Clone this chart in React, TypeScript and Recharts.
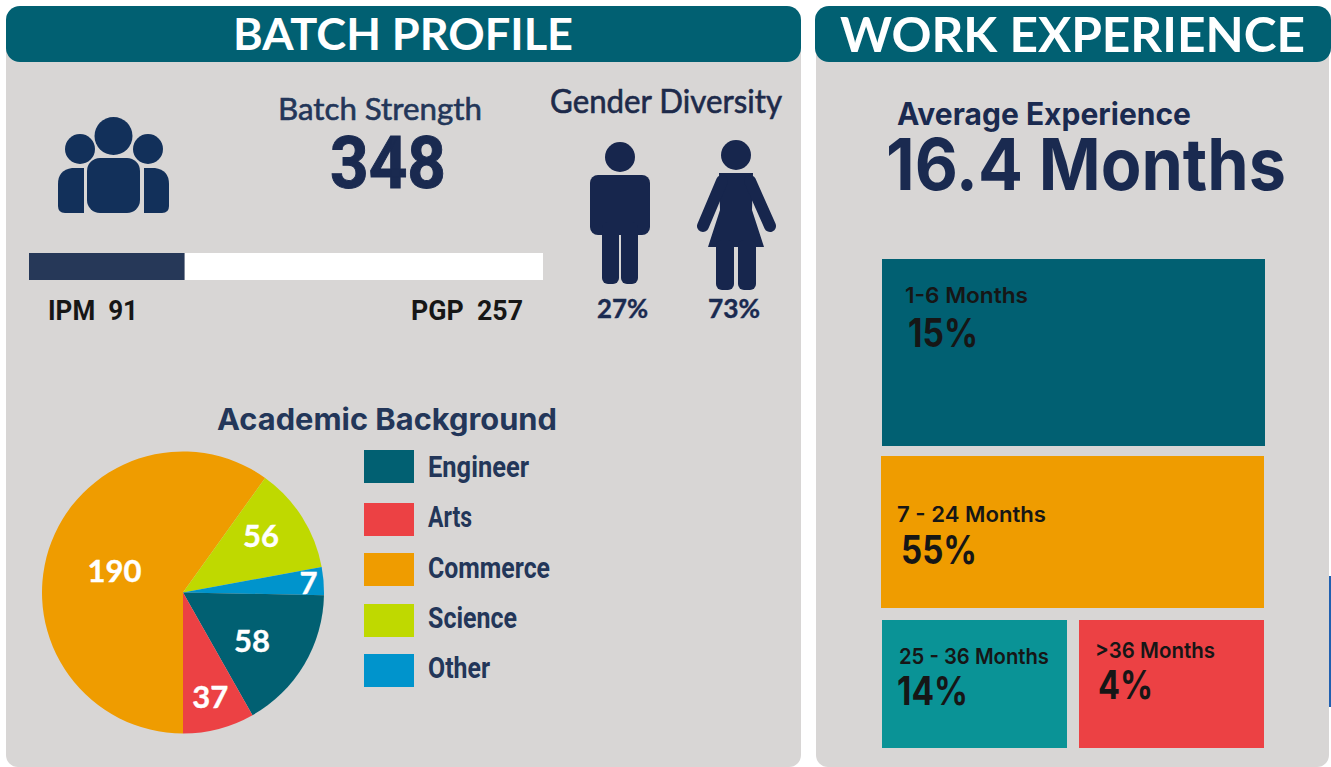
import React from 'react';
import { BarChart, Bar, PieChart, Pie, Cell, XAxis, YAxis } from 'recharts';

const TEAL = '#016072';
const ORANGE = '#ef9c00';
const SEA = '#0a9396';
const RED = '#ec4144';
const LIME = '#bfd900';
const BLUE = '#0094cc';
const PANEL = '#d8d6d5';
const NAVY = '#1a2a50';
const SLATE = '#233659';
const INK = '#161616';

// pie, clockwise from six o'clock. The printed numbers and the drawn slice
// sizes disagree in the source graphic, so both are kept.
const sliceNames = ['Commerce', 'Science', 'Other', 'Engineer', 'Arts'];
const slicePrinted = [190, 56, 7, 58, 37];
const sliceShares = [59.9, 12.2, 3.2, 16.5, 8.2];
const sliceColors = [ORANGE, LIME, BLUE, TEAL, RED];
const sliceLabelRadius = [72, 97, 126, 84, 107];
const sliceLabelNudge = [0, 4, 0, -4, 0];

const legendNames = ['Engineer', 'Arts', 'Commerce', 'Science', 'Other'];
const legendColors = [TEAL, RED, ORANGE, LIME, BLUE];
const legendTop = [450, 503, 553, 604, 654];
const legendBaseline = [477, 527, 578, 628, 678];
const legendWidth = [101, 44, 122, 89, 62];

// same story for the IPM / PGP strip: 91 / 257 printed, about 30 / 70 drawn
const strip = [{ name: 'batch', ipm: 30.3, pgp: 69.7 }];

const expNames = ['1-6 Months', '7 - 24 Months', '25 - 36 Months', '>36 Months'];
const expPercents = [15, 55, 14, 4];
const expColors = [TEAL, ORANGE, SEA, RED];
const expBoxes = [
  { left: 882, top: 259, width: 383, height: 187 },
  { left: 881, top: 456, width: 383, height: 152 },
  { left: 882, top: 620, width: 185, height: 128 },
  { left: 1079, top: 620, width: 185, height: 128 },
];

const pieData = sliceNames.map((name, i) => ({ name, share: sliceShares[i] }));

const RAD = Math.PI / 180;

const renderSliceLabel = (props: any) => {
  const { cx, cy, midAngle, index } = props;
  const r = sliceLabelRadius[index];
  const a = midAngle + sliceLabelNudge[index];
  return (
    <text
      x={cx + r * Math.cos(-a * RAD)}
      y={cy + r * Math.sin(-a * RAD)}
      fill="#fff"
      stroke="#fff"
      strokeWidth={0.4}
      fontFamily="Lato"
      fontWeight={700}
      fontSize={31}
      textAnchor="middle"
      dominantBaseline="central"
    >
      {slicePrinted[index]}
    </text>
  );
};

// text placed by left edge + baseline, squeezed to the width seen in the picture
const T: React.FC<{
  x: number;
  y: number;
  w: number;
  size: number;
  fill?: string;
  weight?: number;
  font?: string;
  bold?: number;
  children: React.ReactNode;
}> = ({ x, y, w, size, fill = NAVY, weight = 700, font = 'Lato', bold = 0, children }) => (
  <text
    x={x}
    y={y}
    fontSize={size}
    fill={fill}
    stroke={bold ? fill : 'none'}
    strokeWidth={bold}
    fontWeight={weight}
    fontFamily={font}
    textLength={w}
    lengthAdjust="spacingAndGlyphs"
    style={{ whiteSpace: 'pre' }}
  >
    {children}
  </text>
);

const ExpBlock: React.FC<{ index: number }> = ({ index }) => {
  const box = expBoxes[index];
  return (
    <div style={{ position: 'absolute', left: box.left, top: box.top }}>
      <BarChart
        width={box.width}
        height={box.height}
        data={[{ name: expNames[index], value: expPercents[index] }]}
        margin={{ top: 0, right: 0, bottom: 0, left: 0 }}
        barCategoryGap={0}
      >
        <XAxis dataKey="name" hide />
        <YAxis hide domain={[0, expPercents[index]]} />
        <Bar dataKey="value" fill={expColors[index]} isAnimationActive={false} />
      </BarChart>
    </div>
  );
};

const Panel: React.FC<{ left: number; width: number; headLeft: number; headWidth: number }> = ({
  left,
  width,
  headLeft,
  headWidth,
}) => (
  <>
    <div
      style={{
        position: 'absolute',
        left,
        top: 30,
        width,
        height: 737,
        background: PANEL,
        borderRadius: '0 0 12px 12px',
      }}
    />
    <div
      style={{
        position: 'absolute',
        left: headLeft,
        top: 6,
        width: headWidth,
        height: 56,
        background: TEAL,
        borderRadius: 14,
      }}
    />
  </>
);

const Icons = () => (
  <g>
    <g fill="#12305a">
      <circle cx={113.5} cy={136} r={19} />
      <circle cx={80} cy={149} r={15} />
      <circle cx={148} cy={149} r={15} />
      <rect x={87} y={158} width={53} height={55} rx={13} />
      <path d="M84 168 H72 Q58 170 58 184 V206 Q58 213 65 213 H84 Z" />
      <path d="M144 168 H155 Q169 170 169 184 V206 Q169 213 162 213 H144 Z" />
    </g>
    <g fill="#17264d">
      <circle cx={620} cy={157} r={15} />
      <rect x={590} y={175} width={60} height={60} rx={8} />
      <rect x={602} y={222} width={17} height={62} rx={6} />
      <rect x={621} y={222} width={17} height={62} rx={6} />
      <rect x={610} y={222} width={20} height={7} />
      <circle cx={736} cy={155} r={15} />
      <path d="M719 173 H753 L752 210 L764 247 H708 L720 210 Z" />
      <path
        d="M722 181 L703 226 M750 181 L770 226"
        stroke="#17264d"
        strokeWidth={12}
        strokeLinecap="round"
        fill="none"
      />
      <rect x={716} y={240} width={18} height={50} rx={6} />
      <rect x={738} y={240} width={18} height={50} rx={6} />
    </g>
  </g>
);

export default function App() {
  return (
    <div
      style={{
        position: 'fixed',
        left: 0,
        top: 0,
        width: 1331,
        height: 767,
        overflow: 'hidden',
        background: '#fff',
      }}
    >
      <Panel left={6} width={795} headLeft={6} headWidth={795} />
      <Panel left={816} width={513} headLeft={815} headWidth={516} />
      <div style={{ position: 'absolute', left: 1329, top: 576, width: 2, height: 131, background: '#2060b0' }} />

      {/* IPM / PGP strip */}
      <div style={{ position: 'absolute', left: 29, top: 253 }}>
        <BarChart
          layout="vertical"
          width={514}
          height={27}
          data={strip}
          margin={{ top: 0, right: 0, bottom: 0, left: 0 }}
          barCategoryGap={0}
        >
          <XAxis type="number" hide domain={[0, 100]} />
          <YAxis type="category" dataKey="name" hide />
          <Bar dataKey="ipm" stackId="a" fill="#263858" isAnimationActive={false} />
          <Bar dataKey="pgp" stackId="a" fill="#ffffff" isAnimationActive={false} />
        </BarChart>
      </div>

      {/* academic background */}
      <div style={{ position: 'absolute', left: 33, top: 442 }}>
        <PieChart width={300} height={301} margin={{ top: 0, right: 0, bottom: 0, left: 0 }}>
          <Pie
            data={pieData}
            dataKey="share"
            nameKey="name"
            cx={150}
            cy={150.5}
            outerRadius={141}
            startAngle={270}
            endAngle={-90}
            stroke="none"
            label={renderSliceLabel}
            labelLine={false}
            isAnimationActive={false}
          >
            {sliceColors.map((c, i) => (
              <Cell key={i} fill={c} />
            ))}
          </Pie>
        </PieChart>
      </div>
      {legendNames.map((name, i) => (
        <div
          key={name}
          style={{
            position: 'absolute',
            left: 364,
            top: legendTop[i],
            width: 50,
            height: 33,
            background: legendColors[i],
          }}
        />
      ))}

      {expNames.map((name, i) => (
        <ExpBlock key={name} index={i} />
      ))}

      <svg width={1331} height={767} style={{ position: 'absolute', left: 0, top: 0, pointerEvents: 'none' }}>
        <Icons />

        <T x={233} y={50} w={340} size={44} fill="#fff" weight={700}>BATCH PROFILE</T>
        <T x={840} y={52} w={465} size={47} fill="#fff" weight={700}>WORK EXPERIENCE</T>

        <T x={278} y={120} w={204} size={31} fill={SLATE} weight={400} bold={0.6}>Batch Strength</T>
        <T x={330} y={188} w={116} size={72} font="Roboto" bold={1}>348</T>
        <T x={550} y={113} w={232} size={32} fill="#1d2a4a" weight={400} bold={0.6}>Gender Diversity</T>

        <T x={48} y={320} w={90} size={28} fill={INK} font="Roboto">IPM  91</T>
        <T x={411} y={320} w={112} size={28} fill={INK} font="Roboto">PGP  257</T>
        <T x={597} y={318} w={51} size={26} bold={0.4}>27%</T>
        <T x={708} y={318} w={52} size={26} bold={0.4}>73%</T>

        <T x={217} y={430} w={340} size={30} fill={SLATE} font="Inter">Academic Background</T>
        {legendNames.map((name, i) => (
          <T
            key={name}
            x={428}
            y={legendBaseline[i]}
            w={legendWidth[i]}
            size={29}
            fill={SLATE}
            font="Roboto"
            weight={700}
          >
            {name}
          </T>
        ))}

        <T x={897} y={125} w={294} size={31} font="Inter">Average Experience</T>
        <T x={886} y={190} w={400} size={72} font="Inter">16.4 Months</T>

        <T x={905} y={303} w={123} size={22} fill={INK} font="Inter" weight={600}>{expNames[0]}</T>
        <T x={908} y={347} w={70} size={39} fill={INK} font="Inter">{`${expPercents[0]}%`}</T>
        <T x={897} y={522} w={149} size={22} fill={INK} font="Inter" weight={600}>{expNames[1]}</T>
        <T x={901} y={564} w={76} size={39} fill={INK} font="Inter">{`${expPercents[1]}%`}</T>
        <T x={899} y={664} w={150} size={22} fill={INK} font="Inter" weight={600}>{expNames[2]}</T>
        <T x={897} y={705} w={71} size={39} fill={INK} font="Inter">{`${expPercents[2]}%`}</T>
        <T x={1095} y={658} w={120} size={22} fill={INK} font="Inter" weight={600}>{expNames[3]}</T>
        <T x={1098} y={699} w={55} size={39} fill={INK} font="Inter">{`${expPercents[3]}%`}</T>
      </svg>
    </div>
  );
}
